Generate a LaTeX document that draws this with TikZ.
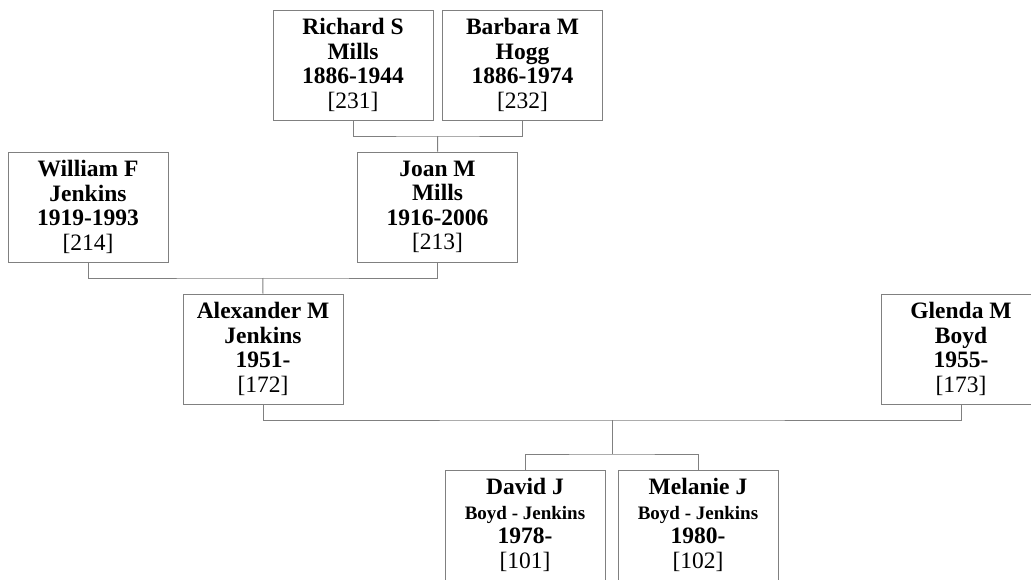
\documentclass[tikz,border=0pt]{standalone}
\usepackage{fontspec}
\setmainfont{Liberation Serif}
\begin{document}
\begin{tikzpicture}[x=1pt,y=-1pt,
  box/.style={draw=black!50, line width=1pt, minimum width=160pt, minimum height=110pt,
    inner sep=0pt, align=center, font=\fontsize{23.5}{24.5}\selectfont},
  link/.style={draw=black!50, line width=1pt}]
\useasboundingbox (0,0) rectangle (1031,579);
\node[box] (r) at (353,65) {\textbf{Richard S}\\\textbf{Mills}\\\textbf{1886-1944}\\{[231]}};
\node[box] (b) at (522.5,65) {\textbf{Barbara M}\\\textbf{Hogg}\\\textbf{1886-1974}\\{[232]}};
\node[box] (w) at (88,207) {\textbf{William F}\\\textbf{Jenkins}\\\textbf{1919-1993}\\{[214]}};
\node[box] (j) at (437.5,207) {\textbf{Joan M}\\\textbf{Mills}\\\textbf{1916-2006}\\{[213]}};
\node[box] (a) at (263,349) {\textbf{Alexander M}\\\textbf{Jenkins}\\\textbf{1951-}\\{[172]}};
\node[box] (g) at (961,349) {\textbf{Glenda M}\\\textbf{Boyd}\\\textbf{1955-}\\{[173]}};
\node[box] (d) at (525,525) {\textbf{David J}\\{\fontsize{19}{22}\selectfont\bfseries Boyd - Jenkins}\\\textbf{1978-}\\{[101]}};
\node[box] (m) at (698,525) {\textbf{Melanie J}\\{\fontsize{19}{22}\selectfont\bfseries Boyd - Jenkins}\\\textbf{1980-}\\{[102]}};
\coordinate (rb) at (437.75,136);
\coordinate (wj) at (262.75,278);
\coordinate (ag) at (612,420);
\coordinate (dm) at (612,454);
\draw[link] (r.south) |- (rb) -| (b.south);
\draw[link] (rb) -- (j.north);
\draw[link] (w.south) |- (wj) -| (j.south);
\draw[link] (wj) -- (a.north);
\draw[link] (a.south) |- (ag) -| (g.south);
\draw[link] (ag) -- (dm);
\draw[link] (d.north) |- (dm) -| (m.north);
\end{tikzpicture}
\end{document}
